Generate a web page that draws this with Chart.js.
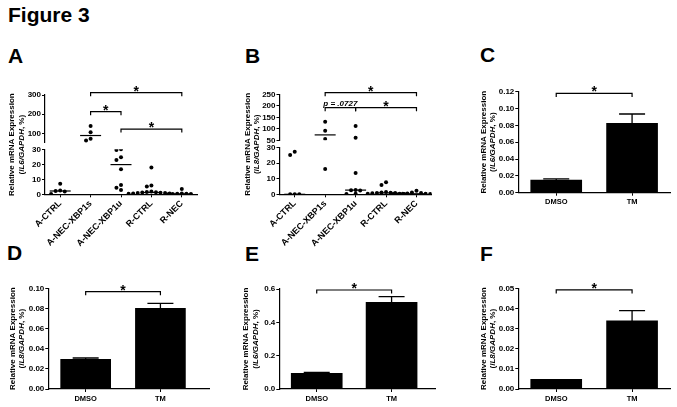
<!DOCTYPE html>
<html>
<head>
<title>Figure 3</title>
<script src="https://cdn.jsdelivr.net/npm/chart.js"></script>
<style>
body { margin: 0; background: #fff; width: 677px; height: 407px; position: relative; overflow: hidden;
       font-family: 'Liberation Sans', Arial, sans-serif; }
.lbl { position: absolute; font-weight: bold; font-size: 21px; line-height: 21px; color: #000; }
canvas { position: absolute; }
</style>
</head>
<body>
<div class="lbl" style="left:8px;top:4px">Figure 3</div>
<div class="lbl" style="left:8px;top:45px">A</div>
<div class="lbl" style="left:245px;top:45px">B</div>
<div class="lbl" style="left:480px;top:44px">C</div>
<div class="lbl" style="left:7px;top:242px">D</div>
<div class="lbl" style="left:245px;top:243px">E</div>
<div class="lbl" style="left:480px;top:243px">F</div>

<canvas id="chartA" width="230" height="185" style="left:0px;top:70px"></canvas>
<canvas id="chartB" width="222" height="185" style="left:230px;top:70px"></canvas>
<canvas id="chartC" width="225" height="145" style="left:452px;top:70px"></canvas>
<canvas id="chartD" width="230" height="142" style="left:0px;top:265px"></canvas>
<canvas id="chartE" width="222" height="142" style="left:230px;top:265px"></canvas>
<canvas id="chartF" width="225" height="142" style="left:452px;top:265px"></canvas>

<script>
// ---- data ----
const groups = ['A-CTRL', 'A-NEC-XBP1s', 'A-NEC-XBP1u', 'R-CTRL', 'R-NEC'];

// panel A, IL6 (one list per group)
const il6Groups = [
    [7, 2.5, 2.2, 1.8, 0.2],
    [138, 105, 72, 63],
    [30, 29.5, 24.7, 22.9, 16.7, 6.2, 4.4, 2.9],
    [17.8, 5.8, 5.2, 1.8, 1.5, 1.4, 1.2, 1.0, 0.9, 0.8, 0.6, 0.5, 0.4],
    [3.6, 0.5, 0.4, 0.3, 0.2, 0.2, 0.1]
];
// panel B, IL8
const il8Groups = [
    [27.4, 25.3, 0, 0, 0],
    [131, 91, 56, 16.3],
    [112, 61, 13.7, 2.8, 2.6, 2.5, 0.3, 0.2],
    [7.7, 6.0, 1.5, 1.2, 1.0, 0.9, 0.8, 0.6, 0.4, 0.3, 0.2],
    [2.3, 1.2, 0.8, 0.5, 0.4, 0.3, 0.2, 0.1, 0.1, 0]
];
const loTicks = [0, 10, 20, 30];
const hiTicksA = [100, 200, 300];
const hiTicksB = [50, 100, 150, 200, 250];
// [from group, to group, level, label]
const sigA = [[1, 4, 312, '*'], [1, 2, 213, '*'], [2, 4, 122, '*']];
const sigB = [[1, 4, 257, '*'], [1, 2, 192, 'p = .0727'], [2, 4, 192, '*']];

const treatments = ['DMSO', 'TM'];
const meanC = [0.015, 0.0825], semC = [0.0015, 0.011];
const meanD = [0.0295, 0.080], semD = [0.0013, 0.005];
const meanE = [0.094, 0.52],   semE = [0.006, 0.034];
const meanF = [0.0048, 0.0338], semF = [0, 0.0051];
const ticksC = [0, 0.02, 0.04, 0.06, 0.08, 0.10, 0.12];
const ticksD = [0, 0.02, 0.04, 0.06, 0.08, 0.10];
const ticksE = [0, 0.2, 0.4, 0.6];
const ticksF = [0, 0.01, 0.02, 0.03, 0.04, 0.05];
const sigC = [[0, 1, 0.118, '*']];
const sigD = [[0, 1, 0.0966, '*']];
const sigE = [[0, 1, 0.594, '*']];
const sigF = [[0, 1, 0.0492, '*']];

// ---- styling ----
const FONT = "'Liberation Sans', Arial, Helvetica, sans-serif";
Chart.defaults.font.family = FONT;
Chart.defaults.color = '#000';
Chart.defaults.animation = false;
Chart.defaults.plugins.legend.display = false;
Chart.defaults.plugins.tooltip.enabled = false;

const border = { color: '#000', width: 1.2 };
const tickGrid = { drawOnChartArea: false, drawTicks: true, tickLength: 3, color: '#000', lineWidth: 1, offset: false };
const Y_W = 28;

function median(a) {
    const s = a.slice().sort((p, q) => p - q), n = s.length;
    return n % 2 ? s[(n - 1) / 2] : (s[n / 2 - 1] + s[n / 2]) / 2;
}

// spread dots of one group sideways so they don't overlap
function swarm(groupVals, pxOf) {
    const pts = [];
    groupVals.forEach((vals, i) => {
        const placed = [];
        vals.forEach(v => {
            const py = pxOf(v);
            for (let k = 0; k < 20; k++) {
                const off = (k % 2 ? -1 : 1) * Math.ceil(k / 2) * 0.15;
                const clash = placed.some(p => Math.abs(p.off - off) < 0.01 && Math.abs(p.py - py) < 3.8);
                if (!clash) { placed.push({ off, py }); pts.push({ x: i + off, y: v }); break; }
            }
        });
    });
    return pts;
}

const yTitlePlugin = {
    id: 'ytitle',
    afterDraw(chart, args, o) {
        if (!o.gene) return;
        const { ctx, chartArea: a } = chart;
        ctx.save();
        ctx.fillStyle = '#000';
        ctx.textBaseline = 'middle';
        ctx.translate(a.left + o.dx, (a.top + a.bottom) / 2);
        ctx.rotate(-Math.PI / 2);
        ctx.font = 'bold 8px ' + FONT;
        ctx.textAlign = 'center';
        ctx.fillText('Relative mRNA Expression', 0, 0);
        const parts = [['(', 'bold'], [o.gene + '/GAPDH', 'italic bold'], [', %)', 'bold']];
        let w = 0;
        parts.forEach(p => { ctx.font = p[1] + ' 8px ' + FONT; p.push(ctx.measureText(p[0]).width); w += p[2]; });
        let x = -w / 2;
        ctx.textAlign = 'left';
        parts.forEach(p => { ctx.font = p[1] + ' 8px ' + FONT; ctx.fillText(p[0], x, 9.3); x += p[2]; });
        ctx.restore();
    }
};

const sigPlugin = {
    id: 'sig',
    afterDatasetsDraw(chart, args, o) {
        if (!o.items) return;
        const ctx = chart.ctx, xs = chart.scales.x, ys = chart.scales[o.axis];
        ctx.save();
        ctx.strokeStyle = '#000'; ctx.fillStyle = '#000'; ctx.lineWidth = 1.2;
        ctx.textAlign = 'center'; ctx.textBaseline = 'alphabetic';
        o.items.forEach(([i, j, lvl, label]) => {
            const x1 = xs.getPixelForValue(i), x2 = xs.getPixelForValue(j), y = ys.getPixelForValue(lvl);
            ctx.beginPath();
            ctx.moveTo(x1, y + 3.5); ctx.lineTo(x1, y); ctx.lineTo(x2, y); ctx.lineTo(x2, y + 3.5);
            ctx.stroke();
            if (label === '*') {
                ctx.font = 'bold 14px ' + FONT;
                ctx.fillText('*', (x1 + x2) / 2, y + 3);
            } else {
                ctx.font = 'italic bold 8px ' + FONT;
                ctx.fillText(label, (x1 + x2) / 2, y - 1.5);
            }
        });
        ctx.restore();
    }
};

const medianPlugin = {
    id: 'medians',
    afterDatasetsDraw(chart, args, o) {
        if (!o.groups) return;
        const ctx = chart.ctx, xs = chart.scales.x;
        ctx.save();
        ctx.strokeStyle = '#000'; ctx.lineWidth = 1.2;
        o.groups.forEach((vals, i) => {
            const m = median(vals);
            const ys = chart.scales[m > 30 ? 'yHi' : 'yLo'];
            const x = xs.getPixelForValue(i), y = ys.getPixelForValue(m);
            ctx.beginPath(); ctx.moveTo(x - 10.5, y); ctx.lineTo(x + 10.5, y); ctx.stroke();
        });
        ctx.restore();
    }
};

const errPlugin = {
    id: 'errbars',
    afterDatasetsDraw(chart, args, o) {
        if (!o.sem) return;
        const ctx = chart.ctx, ys = chart.scales.y;
        ctx.save();
        ctx.strokeStyle = '#000'; ctx.lineWidth = 1.3;
        chart.getDatasetMeta(0).data.forEach((bar, i) => {
            if (!o.sem[i]) return;
            const v = chart.data.datasets[0].data[i].y;
            const top = ys.getPixelForValue(v + o.sem[i]);
            ctx.beginPath();
            ctx.moveTo(bar.x, bar.y); ctx.lineTo(bar.x, top);
            ctx.moveTo(bar.x - 13, top); ctx.lineTo(bar.x + 13, top);
            ctx.stroke();
        });
        ctx.restore();
    }
};

Chart.register(yTitlePlugin, sigPlugin, medianPlugin, errPlugin);

function fixedTicks(arr) {
    return s => { s.ticks = arr.map(v => ({ value: v })); };
}

function yAxis(ticks, dec, extra) {
    return Object.assign({
        type: 'linear', position: 'left',
        afterBuildTicks: fixedTicks(ticks),
        afterFit: s => { s.width = Y_W; },
        ticks: { font: { size: 8, weight: 'bold' }, padding: 1, autoSkip: false,
                 callback: v => dec == null ? String(v) : Number(v).toFixed(dec) },
        grid: tickGrid, border: border
    }, extra);
}

// scatter dot panels with a broken y axis (two stacked scales plus a blank gap)
function dotPanel(id, g, vals, hiTicks, sig, gene) {
    const hiMin = 50, hiMax = hiTicks[hiTicks.length - 1];
    const pxOf = v => v <= 30 ? v / 30 * g.loH : g.loH + g.gapH + (v - hiMin) / (hiMax - hiMin) * g.hiH;
    const pts = swarm(vals, pxOf);
    const dot = { pointRadius: 2, pointBackgroundColor: '#000', pointBorderWidth: 0 };
    new Chart(document.getElementById(id), {
        type: 'scatter',
        data: { datasets: [
            Object.assign({ data: pts.filter(p => p.y <= 30), yAxisID: 'yLo' }, dot),
            Object.assign({ data: pts.filter(p => p.y > 30), yAxisID: 'yHi' }, dot)
        ] },
        options: {
            responsive: false, devicePixelRatio: 1,
            layout: { padding: { left: g.L - Y_W, top: g.T, right: g.w - g.R, bottom: 0 } },
            scales: {
                x: {
                    type: 'linear', min: -0.5, max: groups.length - 0.5, offset: false,
                    afterBuildTicks: fixedTicks(groups.map((n, i) => i)),
                    afterFit: s => { s.height = g.h - g.B; },
                    ticks: { font: { size: 9, weight: 'bold' }, padding: 1, autoSkip: false,
                             minRotation: 45, maxRotation: 45, callback: v => groups[v] },
                    grid: tickGrid, border: border
                },
                yLo: yAxis(loTicks, null, { min: 0, max: 30, stack: 'v', stackWeight: g.loH }),
                yGap: { type: 'linear', position: 'left', display: false, stack: 'v', stackWeight: g.gapH,
                        afterFit: s => { s.width = Y_W; } },
                yHi: yAxis(hiTicks, null, { min: hiMin, max: hiMax, stack: 'v', stackWeight: g.hiH })
            },
            plugins: {
                ytitle: { gene: gene, dx: g.titleDx },
                sig: { items: sig, axis: 'yHi' },
                medians: { groups: vals }
            }
        }
    });
}

function barPanel(id, g, mean, sem, ticks, dec, sig, gene) {
    new Chart(document.getElementById(id), {
        type: 'bar',
        data: { datasets: [{
            data: mean.map((m, i) => ({ x: i, y: m })),
            backgroundColor: '#000', borderWidth: 0, barThickness: g.barW
        }] },
        options: {
            responsive: false, devicePixelRatio: 1,
            layout: { padding: { left: g.L - Y_W, top: g.T, right: g.w - g.R, bottom: 0 } },
            scales: {
                x: {
                    type: 'linear', min: -0.5, max: g.xMax, offset: false,
                    afterBuildTicks: fixedTicks(treatments.map((n, i) => i)),
                    afterFit: s => { s.height = g.h - g.B; },
                    ticks: { font: { size: 7.5, weight: 'bold' }, padding: 2, maxRotation: 0,
                             callback: v => treatments[v] },
                    grid: tickGrid, border: border
                },
                y: yAxis(ticks, dec, { min: 0, max: ticks[ticks.length - 1] })
            },
            plugins: {
                ytitle: { gene: gene, dx: g.titleDx },
                sig: { items: sig, axis: 'y' },
                errbars: { sem: sem }
            }
        }
    });
}

// canvas-local plot geometry of each panel
const geoA = { w: 230, h: 185, L: 45, T: 25, R: 197, B: 124.3, hiH: 47.9, gapH: 6.4, loH: 45, titleDx: -33 };
const geoB = { w: 222, h: 185, L: 49.5, T: 24.3, R: 201.7, B: 124.3, hiH: 46, gapH: 7.4, loH: 46.6, titleDx: -32 };
const geoC = { w: 225, h: 145, L: 66.3, T: 21.7, R: 218, B: 122.7, xMax: 1.5, barW: 51, titleDx: -34.6 };
const geoD = { w: 230, h: 142, L: 48.3, T: 23.3, R: 209, B: 124, xMax: 1.65, barW: 50, titleDx: -35.8 };
const geoE = { w: 222, h: 142, L: 49.3, T: 24, R: 205, B: 124, xMax: 1.58, barW: 51, titleDx: -33.3 };
const geoF = { w: 225, h: 142, L: 66.3, T: 23.3, R: 218, B: 124, xMax: 1.5, barW: 51, titleDx: -34.5 };

dotPanel('chartA', geoA, il6Groups, hiTicksA, sigA, 'IL6');
dotPanel('chartB', geoB, il8Groups, hiTicksB, sigB, 'IL8');
barPanel('chartC', geoC, meanC, semC, ticksC, 2, sigC, 'IL6');
barPanel('chartD', geoD, meanD, semD, ticksD, 2, sigD, 'IL8');
barPanel('chartE', geoE, meanE, semE, ticksE, 1, sigE, 'IL6');
barPanel('chartF', geoF, meanF, semF, ticksF, 2, sigF, 'IL8');
</script>
</body>
</html>
